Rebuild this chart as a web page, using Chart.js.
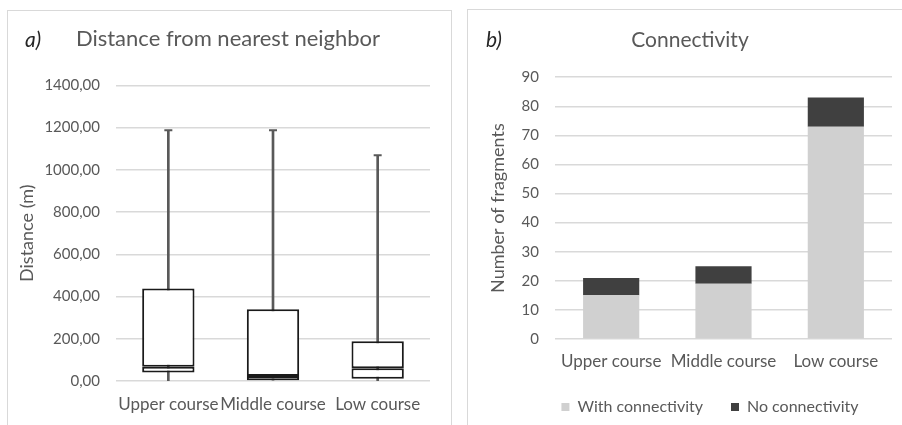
<!DOCTYPE html>
<html>
<head>
<meta charset="utf-8">
<script src="https://cdn.jsdelivr.net/npm/chart.js@4"></script>
<style>
    body { margin: 0; background: #fff; width: 902px; height: 425px; overflow: hidden; position: relative; font-family: Lato, sans-serif; }
    .panel { position: absolute; border: 1px solid #d9d9d9; background: #fff; }
    #panelA { left: 7px; top: 10px; width: 443px; height: 430px; }
    #panelB { left: 467px; top: 9px; width: 460px; height: 430px; overflow: hidden; }
    .tag { position: absolute; font-style: italic; font-size: 21px; color: #262626; }
    .box { position: absolute; left: 0; top: 0; }
</style>
</head>
<body>
<div class="panel" id="panelA">
    <div class="box" style="width:443px;height:414px"><canvas id="boxChart"></canvas></div>
    <span class="tag" style="left:17px;top:15px">a)</span>
</div>
<div class="panel" id="panelB">
    <div class="box" style="width:444px;height:415px"><canvas id="barChart"></canvas></div>
    <span class="tag" style="left:18px;top:16px">b)</span>
</div>
<script>
// ===================================
// DADOS
// ===================================
const categories = ['Upper course', 'Middle course', 'Low course'];

// box plot - distance (m)
const distMin = [2, 0, 2];
const distQ1 = [40, 0, 11];
const distMedian = [68, 24, 60];
const distQ3 = [438, 340, 188];
const distMax = [1187, 1187, 1069];

// stacked bars - number of fragments
const withConnectivity = [15, 19, 73];
const noConnectivity = [6, 6, 10];

const distTicks = [0, 200, 400, 600, 800, 1000, 1200, 1400];

const textColor = '#595959';
const gridColor = '#d9d9d9';
Chart.defaults.font.family = 'Lato, sans-serif';
Chart.defaults.color = textColor;
Chart.defaults.animation = false;

// empurra título / legenda na horizontal (o Excel não centra exatamente)
function shiftBoxes(titleDx, legendDx) {
    return {
        id: 'shiftBoxes',
        afterLayout: function(chart) {
            if (chart.titleBlock) {
                chart.titleBlock.left += titleDx;
                chart.titleBlock.right += titleDx;
            }
            if (chart.legend && legendDx) {
                chart.legend.left += legendDx;
                chart.legend.right += legendDx;
            }
        }
    };
}

// ===================================
// GRÁFICO A - BOX PLOT
// ===================================
const boxStyle = {
    backgroundColor: '#ffffff',
    borderColor: '#1a1a1a',
    borderWidth: 2,
    borderSkipped: false,
    barPercentage: 0.5,
    categoryPercentage: 1
};

new Chart(document.getElementById('boxChart'), {
    type: 'bar',
    data: {
        labels: categories,
        datasets: [
            {
                label: 'whisker',
                data: categories.map((c, i) => [distMin[i], distMax[i]]),
                backgroundColor: '#595959',
                barThickness: 2,
                order: 3
            },
            Object.assign({
                label: 'lower',
                data: categories.map((c, i) => [distQ1[i], distMedian[i]]),
                order: 2
            }, boxStyle),
            Object.assign({
                label: 'upper',
                data: categories.map((c, i) => [distMedian[i], distQ3[i]]),
                order: 1
            }, boxStyle),
            {
                type: 'line',
                label: 'cap',
                data: distMax,
                showLine: false,
                pointStyle: 'line',
                pointRadius: 4,
                borderColor: '#595959',
                borderWidth: 2,
                order: 0
            }
        ]
    },
    plugins: [shiftBoxes(9, 0)],
    options: {
        responsive: true,
        maintainAspectRatio: false,
        grouped: false,
        layout: { padding: { left: 0, right: 21, bottom: 4, top: 0 } },
        plugins: {
            legend: { display: false },
            tooltip: { enabled: false },
            title: {
                display: true,
                text: 'Distance from nearest neighbor',
                color: textColor,
                font: { size: 22, weight: 'normal' },
                padding: { top: 15, bottom: 33 }
            }
        },
        scales: {
            x: {
                grid: { display: false, drawTicks: false },
                border: { display: false },
                ticks: { color: textColor, font: { size: 17 }, padding: 13, maxRotation: 0, autoSkip: false },
                afterFit: function(scale) { scale.height = 40; }
            },
            y: {
                min: 0,
                max: 1400,
                afterBuildTicks: function(scale) {
                    scale.ticks = distTicks.map(v => ({ value: v }));
                },
                grid: { color: gridColor, drawTicks: false, lineWidth: 1.5 },
                border: { display: false },
                ticks: {
                    color: textColor,
                    font: { size: 15 },
                    padding: 16,
                    callback: function(value) {
                        return value.toFixed(2).replace('.', ',');
                    }
                },
                title: {
                    display: true,
                    text: 'Distance (m)',
                    color: textColor,
                    font: { size: 18 },
                    padding: { top: 8, bottom: 0 }
                },
                afterFit: function(scale) { scale.width = 108; }
            }
        }
    }
});

// ===================================
// GRÁFICO B - BARRAS EMPILHADAS
// ===================================
new Chart(document.getElementById('barChart'), {
    type: 'bar',
    data: {
        labels: categories,
        datasets: [
            {
                label: 'With connectivity',
                data: withConnectivity,
                backgroundColor: '#d0d0d0',
                barPercentage: 0.5,
                categoryPercentage: 1
            },
            {
                label: 'No connectivity',
                data: noConnectivity,
                backgroundColor: '#404040',
                barPercentage: 0.5,
                categoryPercentage: 1
            }
        ]
    },
    plugins: [shiftBoxes(10, 30)],
    options: {
        responsive: true,
        maintainAspectRatio: false,
        layout: { padding: { left: 0, right: 20, bottom: 0, top: 0 } },
        plugins: {
            tooltip: { enabled: false },
            title: {
                display: true,
                text: 'Connectivity',
                color: textColor,
                font: { size: 21, weight: 'normal' },
                padding: { top: 18, bottom: 24 }
            },
            legend: {
                position: 'bottom',
                labels: {
                    boxWidth: 8,
                    boxHeight: 8,
                    color: textColor,
                    font: { size: 16 },
                    padding: 28
                }
            }
        },
        scales: {
            x: {
                stacked: true,
                grid: { display: false, drawTicks: false },
                border: { display: false },
                ticks: { color: textColor, font: { size: 17 }, padding: 12, maxRotation: 0, autoSkip: false },
                afterFit: function(scale) { scale.height = 32; }
            },
            y: {
                stacked: true,
                min: 0,
                max: 90,
                ticks: { stepSize: 10, color: textColor, font: { size: 15 }, padding: 16 },
                grid: { color: gridColor, drawTicks: false, lineWidth: 1.5 },
                border: { display: false },
                title: {
                    display: true,
                    text: 'Number of fragments',
                    color: textColor,
                    font: { size: 18 },
                    padding: { top: 19, bottom: 0 }
                },
                afterFit: function(scale) { scale.width = 87; }
            }
        }
    }
});
</script>
</body>
</html>
